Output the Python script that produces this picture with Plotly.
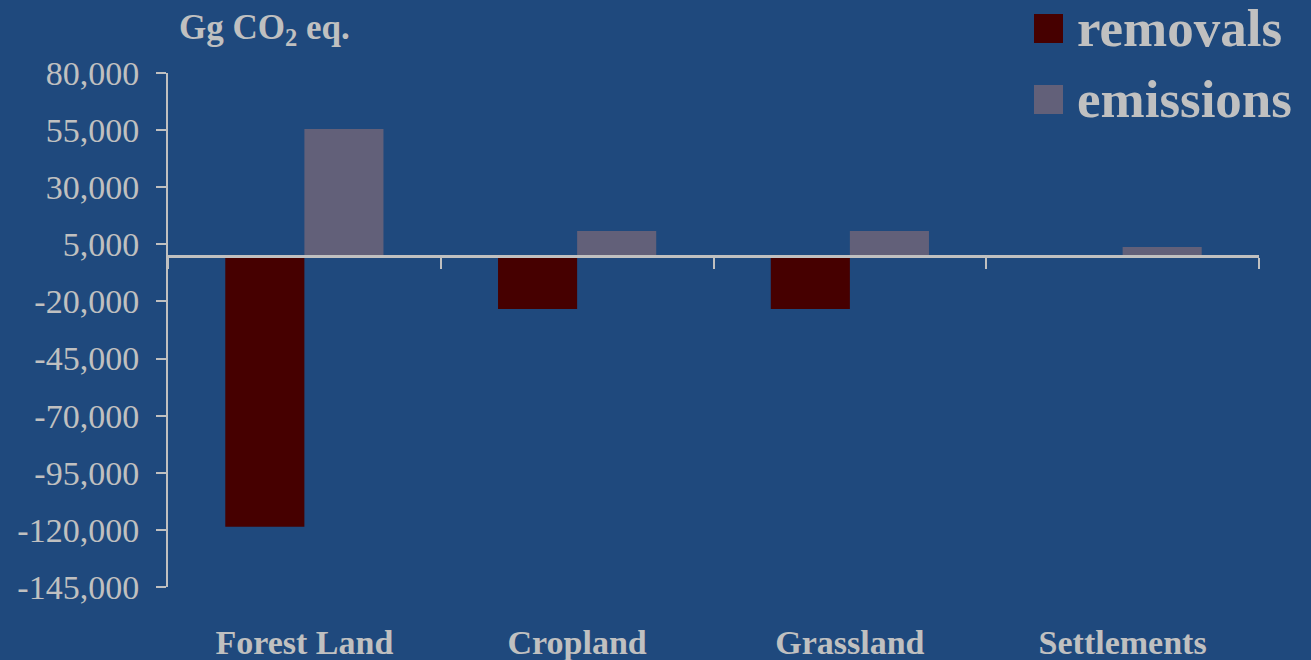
import plotly.graph_objects as go

categories = ["Forest Land", "Cropland", "Grassland", "Settlements"]
removals = [-118600, -23300, -23300, 0]
emissions = [55500, 10850, 10850, 3850]
y_tickvals = [80000, 55000, 30000, 5000, -20000, -45000, -70000, -95000, -120000, -145000]
y_ticktext = ["80,000", "55,000", "30,000", "5,000", "-20,000", "-45,000", "-70,000", "-95,000", "-120,000", "-145,000"]
legend_names = ["removals", "emissions"]

BG = "#1F497D"
TXT = "#C0C0C0"
C_REM = "#460000"
C_EMI = "#626079"
FONT = "Liberation Serif"

W, H = 1311, 660
ML, MR, MT, MB = 168, 52, 73, 73
YMIN, YMAX = -145000, 80000
PW, PH = W - ML - MR, H - MT - MB


def px_x(px):
    return (px - ML) / PW


def px_y(py):
    return (H - MB - py) / PH


fig = go.Figure()
fig.add_trace(go.Bar(x=categories, y=removals, name=legend_names[0], marker_color=C_REM,
                     marker_line_width=0, showlegend=False))
fig.add_trace(go.Bar(x=categories, y=emissions, name=legend_names[1], marker_color=C_EMI,
                     marker_line_width=0, showlegend=False))
# invisible helper trace for the zero-line category axis
fig.add_trace(go.Scatter(x=categories, y=[0] * len(categories), xaxis="x2", yaxis="y",
                         mode="markers", marker=dict(opacity=0), showlegend=False,
                         hoverinfo="skip"))

zero_frac = (0 - YMIN) / (YMAX - YMIN)

fig.update_layout(
    width=W, height=H,
    margin=dict(l=ML, r=MR, t=MT, b=MB, pad=0, autoexpand=False),
    paper_bgcolor=BG, plot_bgcolor=BG,
    barmode="group", bargap=0.42, bargroupgap=0,
    font=dict(family=FONT, color=TXT),
    xaxis=dict(showline=False, ticks="", showgrid=False, zeroline=False, automargin=False,
               tickfont=dict(family=FONT, size=34, color=TXT, weight="bold"),
               ticklabelstandoff=32),
    xaxis2=dict(overlaying="x", matches="x", anchor="free", position=zero_frac,
                showline=True, linecolor=TXT, linewidth=3, automargin=False,
                ticks="outside", ticklen=11, tickwidth=2, tickcolor=TXT,
                tickson="boundaries", showticklabels=False, showgrid=False, zeroline=False),
    yaxis=dict(range=[YMIN, YMAX], tickvals=y_tickvals, ticktext=y_ticktext,
               showline=True, linecolor=TXT, linewidth=2, automargin=False,
               ticks="outside", ticklen=10, tickwidth=2, tickcolor=TXT,
               showgrid=False, zeroline=False,
               tickfont=dict(family=FONT, size=34, color=TXT),
               ticklabelstandoff=10),
)

# Unit label
fig.add_annotation(xref="paper", yref="paper", x=px_x(177), y=px_y(29),
                   xanchor="left", yanchor="middle", showarrow=False,
                   text="Gg CO<sub>2</sub> eq.",
                   font=dict(family=FONT, size=35, color=TXT, weight="bold"))

# Legend keys
legend_colors = [C_REM, C_EMI]
legend_centers = [28.5, 99.5]
for name, col, cy in zip(legend_names, legend_colors, legend_centers):
    fig.add_shape(type="rect", xref="paper", yref="paper",
                  x0=px_x(1034), x1=px_x(1063), y0=px_y(cy - 14.5), y1=px_y(cy + 14.5),
                  fillcolor=col, line_width=0)
    fig.add_annotation(xref="paper", yref="paper", x=px_x(1075), y=px_y(cy - 1),
                       xanchor="left", yanchor="middle", showarrow=False, text=name,
                       font=dict(family=FONT, size=53, color=TXT, weight="bold"))

fig.write_html("out.html")
